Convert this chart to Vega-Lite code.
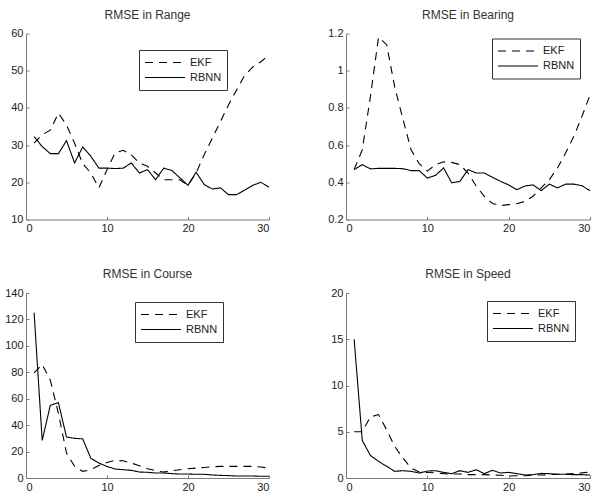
{
  "$schema": "https://vega.github.io/schema/vega-lite/v6.json",
  "padding": {"left": 4, "top": 8.5, "right": 0, "bottom": 0},
  "background": "white",
  "data": {"values": [
    {"p":"Range","x":1,"EKF":30.5,"RBNN":32.3},{"p":"Range","x":2,"EKF":32.8,"RBNN":29.6},{"p":"Range","x":3,"EKF":34,"RBNN":27.7},{"p":"Range","x":4,"EKF":38.6,"RBNN":27.7},{"p":"Range","x":5,"EKF":35.4,"RBNN":31.2},{"p":"Range","x":6,"EKF":30.5,"RBNN":25.2},{"p":"Range","x":7,"EKF":25,"RBNN":29.5},{"p":"Range","x":8,"EKF":22.5,"RBNN":27},{"p":"Range","x":9,"EKF":18.5,"RBNN":23.8},{"p":"Range","x":10,"EKF":23.4,"RBNN":23.8},
    {"p":"Range","x":11,"EKF":27.9,"RBNN":23.7},{"p":"Range","x":12,"EKF":28.6,"RBNN":23.8},{"p":"Range","x":13,"EKF":27.4,"RBNN":25.2},{"p":"Range","x":14,"EKF":25.2,"RBNN":22.5},{"p":"Range","x":15,"EKF":24.3,"RBNN":23.4},{"p":"Range","x":16,"EKF":22.5,"RBNN":20.7},{"p":"Range","x":17,"EKF":20.7,"RBNN":23.8},{"p":"Range","x":18,"EKF":20.7,"RBNN":23.2},{"p":"Range","x":19,"EKF":20.7,"RBNN":21.2},{"p":"Range","x":20,"EKF":19.2,"RBNN":19.2},
    {"p":"Range","x":21,"EKF":22.5,"RBNN":22.7},{"p":"Range","x":22,"EKF":27.4,"RBNN":19.4},{"p":"Range","x":23,"EKF":31.9,"RBNN":18.2},{"p":"Range","x":24,"EKF":36.3,"RBNN":18.5},{"p":"Range","x":25,"EKF":40.8,"RBNN":16.7},{"p":"Range","x":26,"EKF":44.8,"RBNN":16.7},{"p":"Range","x":27,"EKF":48.8,"RBNN":17.9},{"p":"Range","x":28,"EKF":51,"RBNN":19.2},{"p":"Range","x":29,"EKF":52.4,"RBNN":20},{"p":"Range","x":30,"EKF":54.2,"RBNN":18.7},

    {"p":"Bearing","x":1,"EKF":0.468,"RBNN":0.468},{"p":"Bearing","x":2,"EKF":0.575,"RBNN":0.495},{"p":"Bearing","x":3,"EKF":0.86,"RBNN":0.472},{"p":"Bearing","x":4,"EKF":1.18,"RBNN":0.475},{"p":"Bearing","x":5,"EKF":1.14,"RBNN":0.475},{"p":"Bearing","x":6,"EKF":0.91,"RBNN":0.475},{"p":"Bearing","x":7,"EKF":0.74,"RBNN":0.473},{"p":"Bearing","x":8,"EKF":0.575,"RBNN":0.463},{"p":"Bearing","x":9,"EKF":0.5,"RBNN":0.463},{"p":"Bearing","x":10,"EKF":0.46,"RBNN":0.423},
    {"p":"Bearing","x":11,"EKF":0.495,"RBNN":0.437},{"p":"Bearing","x":12,"EKF":0.51,"RBNN":0.477},{"p":"Bearing","x":13,"EKF":0.507,"RBNN":0.397},{"p":"Bearing","x":14,"EKF":0.495,"RBNN":0.405},{"p":"Bearing","x":15,"EKF":0.45,"RBNN":0.468},{"p":"Bearing","x":16,"EKF":0.38,"RBNN":0.45},{"p":"Bearing","x":17,"EKF":0.325,"RBNN":0.45},{"p":"Bearing","x":18,"EKF":0.286,"RBNN":0.427},{"p":"Bearing","x":19,"EKF":0.275,"RBNN":0.405},{"p":"Bearing","x":20,"EKF":0.28,"RBNN":0.386},
    {"p":"Bearing","x":21,"EKF":0.285,"RBNN":0.36},{"p":"Bearing","x":22,"EKF":0.298,"RBNN":0.38},{"p":"Bearing","x":23,"EKF":0.325,"RBNN":0.386},{"p":"Bearing","x":24,"EKF":0.37,"RBNN":0.355},{"p":"Bearing","x":25,"EKF":0.414,"RBNN":0.39},{"p":"Bearing","x":26,"EKF":0.477,"RBNN":0.37},{"p":"Bearing","x":27,"EKF":0.557,"RBNN":0.39},{"p":"Bearing","x":28,"EKF":0.646,"RBNN":0.39},{"p":"Bearing","x":29,"EKF":0.753,"RBNN":0.382},{"p":"Bearing","x":30,"EKF":0.87,"RBNN":0.355},

    {"p":"Course","x":1,"EKF":79.6,"RBNN":125},{"p":"Course","x":2,"EKF":86,"RBNN":28.4},{"p":"Course","x":3,"EKF":74,"RBNN":55},{"p":"Course","x":4,"EKF":49,"RBNN":57},{"p":"Course","x":5,"EKF":18.8,"RBNN":31},{"p":"Course","x":6,"EKF":8.8,"RBNN":30},{"p":"Course","x":7,"EKF":5,"RBNN":29.6},{"p":"Course","x":8,"EKF":6.3,"RBNN":15},{"p":"Course","x":9,"EKF":9.5,"RBNN":11.3},{"p":"Course","x":10,"EKF":11.8,"RBNN":8.8},
    {"p":"Course","x":11,"EKF":13.3,"RBNN":6.8},{"p":"Course","x":12,"EKF":13,"RBNN":6.3},{"p":"Course","x":13,"EKF":11.3,"RBNN":5.8},{"p":"Course","x":14,"EKF":9.3,"RBNN":4.5},{"p":"Course","x":15,"EKF":7,"RBNN":4.3},{"p":"Course","x":16,"EKF":5.5,"RBNN":3.8},{"p":"Course","x":17,"EKF":4.5,"RBNN":3.8},{"p":"Course","x":18,"EKF":5.5,"RBNN":3.3},{"p":"Course","x":19,"EKF":6.3,"RBNN":3},{"p":"Course","x":20,"EKF":7,"RBNN":3},
    {"p":"Course","x":21,"EKF":7.5,"RBNN":2.8},{"p":"Course","x":22,"EKF":8,"RBNN":2.8},{"p":"Course","x":23,"EKF":8.5,"RBNN":2.3},{"p":"Course","x":24,"EKF":8.8,"RBNN":2},{"p":"Course","x":25,"EKF":8.8,"RBNN":1.8},{"p":"Course","x":26,"EKF":8.8,"RBNN":1.5},{"p":"Course","x":27,"EKF":8.8,"RBNN":1.5},{"p":"Course","x":28,"EKF":8.8,"RBNN":1.5},{"p":"Course","x":29,"EKF":8.3,"RBNN":1.3},{"p":"Course","x":30,"EKF":7.5,"RBNN":1.3},

    {"p":"Speed","x":1,"EKF":5,"RBNN":15},{"p":"Speed","x":2,"EKF":5,"RBNN":4.06},{"p":"Speed","x":3,"EKF":6.6,"RBNN":2.44},{"p":"Speed","x":4,"EKF":6.86,"RBNN":1.8},{"p":"Speed","x":5,"EKF":5.2,"RBNN":1.26},{"p":"Speed","x":6,"EKF":3.4,"RBNN":0.72},{"p":"Speed","x":7,"EKF":2.15,"RBNN":0.79},{"p":"Speed","x":8,"EKF":1.08,"RBNN":0.72},{"p":"Speed","x":9,"EKF":0.65,"RBNN":0.54},{"p":"Speed","x":10,"EKF":0.6,"RBNN":0.75},
    {"p":"Speed","x":11,"EKF":0.55,"RBNN":0.79},{"p":"Speed","x":12,"EKF":0.47,"RBNN":0.61},{"p":"Speed","x":13,"EKF":0.43,"RBNN":0.47},{"p":"Speed","x":14,"EKF":0.43,"RBNN":0.79},{"p":"Speed","x":15,"EKF":0.36,"RBNN":0.61},{"p":"Speed","x":16,"EKF":0.36,"RBNN":0.9},{"p":"Speed","x":17,"EKF":0.36,"RBNN":0.47},{"p":"Speed","x":18,"EKF":0.32,"RBNN":0.83},{"p":"Speed","x":19,"EKF":0.29,"RBNN":0.54},{"p":"Speed","x":20,"EKF":0.22,"RBNN":0.61},
    {"p":"Speed","x":21,"EKF":0.25,"RBNN":0.47},{"p":"Speed","x":22,"EKF":0.25,"RBNN":0.32},{"p":"Speed","x":23,"EKF":0.32,"RBNN":0.36},{"p":"Speed","x":24,"EKF":0.32,"RBNN":0.5},{"p":"Speed","x":25,"EKF":0.36,"RBNN":0.47},{"p":"Speed","x":26,"EKF":0.4,"RBNN":0.4},{"p":"Speed","x":27,"EKF":0.43,"RBNN":0.4},{"p":"Speed","x":28,"EKF":0.47,"RBNN":0.36},{"p":"Speed","x":29,"EKF":0.55,"RBNN":0.36},{"p":"Speed","x":30,"EKF":0.65,"RBNN":0.32}
  ]},
  "columns": 2,
  "bounds": "flush",
  "spacing": {"row": 73.5, "column": 77},
  "resolve": {"scale": {"x": "independent", "y": "independent", "strokeDash": "independent"}, "legend": {"strokeDash": "independent"}},
  "concat": [
    {
      "width": 243, "height": 186,
      "title": "RMSE in Range",
      "transform": [{"filter": "datum.p === 'Range'"}, {"fold": ["EKF", "RBNN"], "as": ["m", "v"]}],
      "mark": {"type": "line", "color": "black", "strokeWidth": 1.1},
      "encoding": {
        "x": {"field": "x", "type": "quantitative", "title": null, "scale": {"domain": [0, 30]}, "axis": {"values": [0, 10, 20, 30]}},
        "y": {"field": "v", "type": "quantitative", "title": null, "scale": {"domain": [10, 60]}, "axis": {"values": [10, 20, 30, 40, 50, 60]}},
        "strokeDash": {"field": "m", "type": "nominal", "scale": {"domain": ["EKF", "RBNN"], "range": [[8, 6], [1, 0]]}, "legend": {"orient": "none", "legendX": 113, "legendY": 16.5, "title": null}}
      }
    },
    {
      "width": 244, "height": 186,
      "title": "RMSE in Bearing",
      "transform": [{"filter": "datum.p === 'Bearing'"}, {"fold": ["EKF", "RBNN"], "as": ["m", "v"]}],
      "mark": {"type": "line", "color": "black", "strokeWidth": 1.1},
      "encoding": {
        "x": {"field": "x", "type": "quantitative", "title": null, "scale": {"domain": [0, 30]}, "axis": {"values": [0, 10, 20, 30]}},
        "y": {"field": "v", "type": "quantitative", "title": null, "scale": {"domain": [0.2, 1.2]}, "axis": {"values": [0.2, 0.4, 0.6, 0.8, 1, 1.2], "format": "~g"}},
        "strokeDash": {"field": "m", "type": "nominal", "scale": {"domain": ["EKF", "RBNN"], "range": [[8, 6], [1, 0]]}, "legend": {"orient": "none", "legendX": 146, "legendY": 5, "title": null}}
      }
    },
    {
      "width": 243, "height": 185,
      "title": "RMSE in Course",
      "transform": [{"filter": "datum.p === 'Course'"}, {"fold": ["EKF", "RBNN"], "as": ["m", "v"]}],
      "mark": {"type": "line", "color": "black", "strokeWidth": 1.1},
      "encoding": {
        "x": {"field": "x", "type": "quantitative", "title": null, "scale": {"domain": [0, 30]}, "axis": {"values": [0, 10, 20, 30]}},
        "y": {"field": "v", "type": "quantitative", "title": null, "scale": {"domain": [0, 140]}, "axis": {"values": [0, 20, 40, 60, 80, 100, 120, 140]}},
        "strokeDash": {"field": "m", "type": "nominal", "scale": {"domain": ["EKF", "RBNN"], "range": [[8, 6], [1, 0]]}, "legend": {"orient": "none", "legendX": 109, "legendY": 9, "title": null}}
      }
    },
    {
      "width": 244, "height": 185,
      "title": "RMSE in Speed",
      "transform": [{"filter": "datum.p === 'Speed'"}, {"fold": ["EKF", "RBNN"], "as": ["m", "v"]}],
      "mark": {"type": "line", "color": "black", "strokeWidth": 1.1},
      "encoding": {
        "x": {"field": "x", "type": "quantitative", "title": null, "scale": {"domain": [0, 30]}, "axis": {"values": [0, 10, 20, 30]}},
        "y": {"field": "v", "type": "quantitative", "title": null, "scale": {"domain": [0, 20]}, "axis": {"values": [0, 5, 10, 15, 20]}},
        "strokeDash": {"field": "m", "type": "nominal", "scale": {"domain": ["EKF", "RBNN"], "range": [[8, 6], [1, 0]]}, "legend": {"orient": "none", "legendX": 141, "legendY": 8, "title": null}}
      }
    }
  ],
  "config": {
    "font": "Liberation Sans",
    "view": {"stroke": null},
    "axis": {"grid": false, "domainColor": "#7a7a7a", "tickColor": "#7a7a7a", "tickSize": -3, "labelPadding": 6, "labelFontSize": 11, "labelColor": "#222222", "labelFont": "Liberation Sans"},
    "title": {"fontSize": 12, "fontWeight": "normal", "color": "#333333", "offset": 6, "font": "Liberation Sans"},
    "legend": {"strokeColor": "#333333", "fillColor": "white", "padding": 5, "symbolType": "stroke", "symbolSize": 1600, "symbolStrokeWidth": 1.1, "symbolStrokeColor": "black", "labelFontSize": 11, "labelOffset": 4, "labelColor": "#222222", "clipHeight": 15, "rowPadding": 0, "cornerRadius": 0, "labelFont": "Liberation Sans"}
  }
}
